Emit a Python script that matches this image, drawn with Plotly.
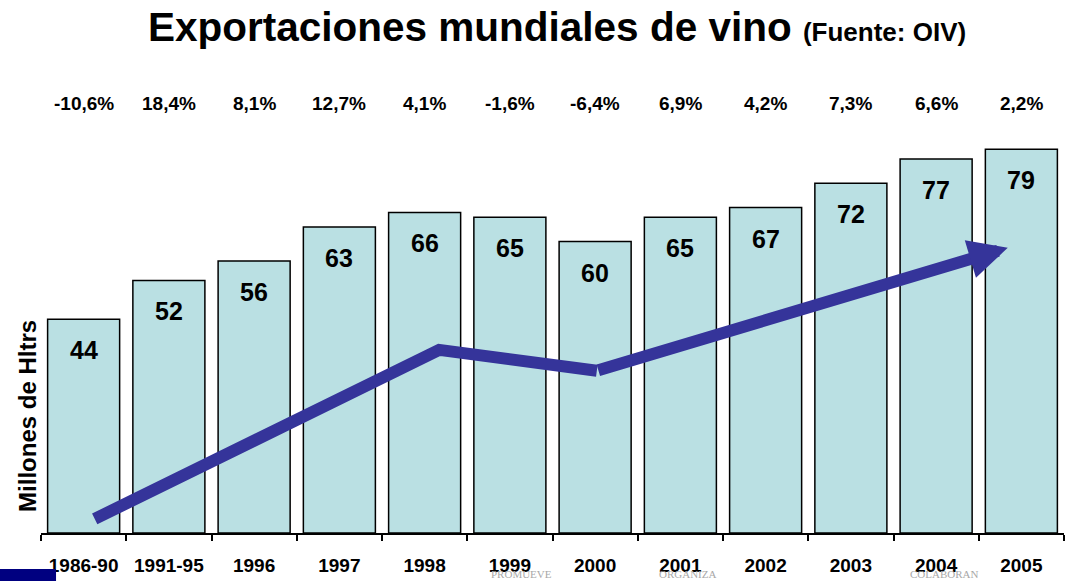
import plotly.graph_objects as go

# Datos: exportaciones mundiales de vino (millones de hl)
periodos = ["1986-90", "1991-95", "1996", "1997", "1998", "1999",
            "2000", "2001", "2002", "2003", "2004", "2005"]
volumen = [44, 52, 56, 63, 66, 65, 60, 65, 67, 72, 77, 79]
variacion = ["-10,6%", "18,4%", "8,1%", "12,7%", "4,1%", "-1,6%",
             "-6,4%", "6,9%", "4,2%", "7,3%", "6,6%", "2,2%"]

# flecha de tendencia (posicion en indice de categoria, valor)
tendencia_x = [0.13, 4.17, 6.02]
tendencia_y = [2.9, 37.7, 33.4]
punta_x = 10.84
punta_y = 58.7

FONT = "Arial, Liberation Sans, sans-serif"
AZUL = "#35349a"

idx = list(range(len(periodos)))

fig = go.Figure()

fig.add_trace(go.Bar(
    x=idx,
    y=volumen,
    marker=dict(color="#bae0e3", line=dict(color="black", width=1.5)),
    showlegend=False,
    hoverinfo="skip",
))

# linea de tendencia
fig.add_trace(go.Scatter(
    x=tendencia_x,
    y=tendencia_y,
    mode="lines",
    line=dict(color=AZUL, width=12),
    showlegend=False,
    hoverinfo="skip",
))

# ultimo tramo con punta de flecha
fig.add_annotation(
    x=punta_x, y=punta_y, xref="x", yref="y",
    ax=tendencia_x[-1], ay=tendencia_y[-1], axref="x", ayref="y",
    text="", showarrow=True, arrowhead=2, arrowsize=0.65,
    arrowwidth=12, arrowcolor=AZUL,
)

# valores dentro de las barras
for i, v in zip(idx, volumen):
    fig.add_annotation(
        x=i, y=v, xref="x", yref="y", text=f"<b>{v}</b>",
        showarrow=False, yshift=-31, yanchor="middle",
        font=dict(family=FONT, size=25, color="black"),
    )

# variaciones porcentuales arriba
for i, t in zip(idx, variacion):
    fig.add_annotation(
        x=i, y=1.094, xref="x", yref="paper", text=f"<b>{t}</b>",
        showarrow=False, yanchor="middle",
        font=dict(family=FONT, size=19, color="black"),
    )

# titulo del eje y
fig.add_annotation(
    x=-0.0127, y=0.298, xref="paper", yref="paper",
    text="<b>Millones de Hltrs</b>", textangle=-90,
    showarrow=False, xanchor="center", yanchor="middle",
    font=dict(family=FONT, size=24, color="black"),
)

# marcas de agua al pie
for txt, xp in [("PROMUEVE", 0.47), ("ORGANIZA", 0.632), ("COLABORAN", 0.883)]:
    fig.add_annotation(
        x=xp, y=-0.085, xref="paper", yref="paper", text=txt,
        showarrow=False, xanchor="center", yanchor="top",
        font=dict(family="Liberation Serif, serif", size=11, color="#a8a8a8"),
    )

# rectangulo azul esquina inferior izquierda
fig.add_shape(
    type="rect", xref="paper", yref="paper",
    x0=-0.045, x1=0.0147, y0=-0.13, y1=-0.0916,
    fillcolor="#000080", line_width=0,
)

fig.update_layout(
    width=1068,
    height=581,
    paper_bgcolor="white",
    plot_bgcolor="white",
    bargap=0.155,
    margin=dict(l=41, r=4, t=140, b=48),
    title=dict(
        text="<b>Exportaciones mundiales de vino</b>&nbsp;"
             "<span style='font-size:26px'><b>(Fuente: OIV)</b></span>",
        x=148 / 1068, xanchor="left",
        y=0.953, yanchor="middle",
        font=dict(family=FONT, size=40.5, color="black"),
    ),
    xaxis=dict(
        range=[-0.5, len(periodos) - 0.5],
        tickmode="array", tickvals=idx,
        ticktext=[f"<b>{p}</b>" for p in periodos],
        ticks="",
        showline=True, linecolor="black", linewidth=1.5,
        tickfont=dict(family=FONT, size=19, color="black"),
        ticklabelstandoff=14,
        showgrid=False, zeroline=False,
        minor=dict(
            tickmode="array",
            tickvals=[i - 0.5 for i in range(len(periodos) + 1)],
            ticks="outside", ticklen=6, tickcolor="black", tickwidth=1.5,
            showgrid=False,
        ),
    ),
    yaxis=dict(
        range=[0, 80.9], visible=False, showgrid=False,
    ),
)

# quitar el margen por defecto del body para que la figura quede en (0,0)
fig.write_html("out.html", config={"displayModeBar": False},
               post_script="document.body.style.margin='0';")
